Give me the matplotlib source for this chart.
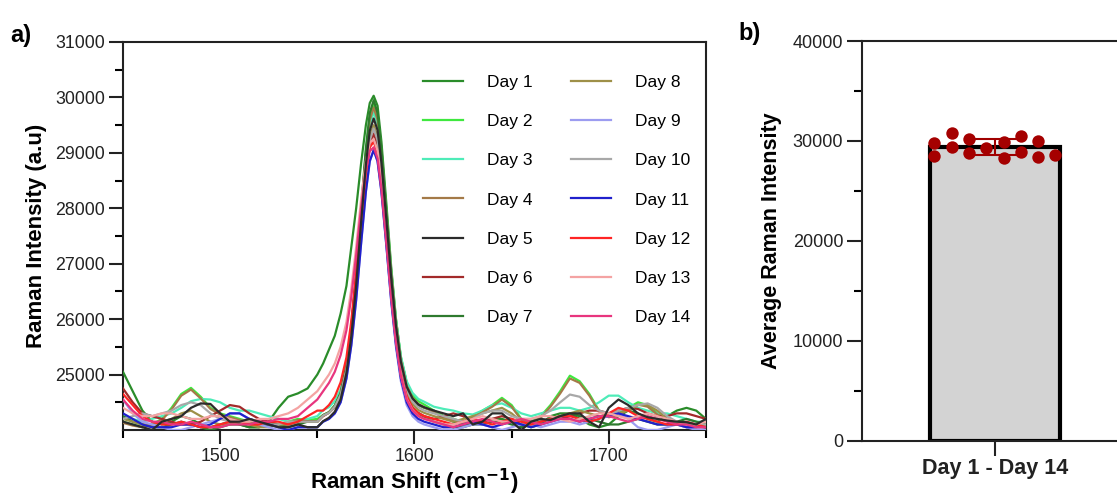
import matplotlib
matplotlib.use("Agg")
import matplotlib.pyplot as plt
import numpy as np

plt.rcParams['font.family'] = ['Liberation Sans', 'DejaVu Sans']

# Raman shift grid (cm-1): left baseline, G-band peak, right baseline
shift = ([1450, 1455, 1460, 1465, 1470, 1475, 1480, 1485, 1490, 1495, 1500,
          1505, 1510, 1515, 1520, 1525, 1530, 1535, 1540, 1545, 1550]
         + [1553, 1556, 1559, 1562, 1565, 1567.5, 1570, 1572.5, 1575, 1577, 1579,
            1581, 1583, 1585.5, 1588, 1590.5, 1593, 1596, 1599, 1602, 1605]
         + [1610, 1615, 1620, 1625, 1630, 1635, 1640, 1645, 1650, 1655, 1660,
            1665, 1670, 1675, 1680, 1685, 1690, 1695, 1700, 1705, 1710, 1715,
            1720, 1725, 1730, 1735, 1740, 1745, 1750])

day1 = [25050, 24700, 24350, 24150, 24100, 24150, 24250, 24200, 24100, 24050, 24100, 24150, 24100, 24050, 24050, 24150, 24400, 24600, 24660, 24750, 25000,
        25200, 25450, 25700, 26100, 26600, 27300, 28000, 28800, 29500, 29900, 30030, 29850, 29200, 28100, 26950, 26000, 25300, 24850, 24580, 24450, 24400,
        24350, 24250, 24150, 24100, 24100, 24150, 24200, 24200, 24150, 24100, 24050, 24100, 24250, 24300, 24300, 24200, 24100, 24050, 24100, 24250, 24350, 24300, 24200, 24150, 24250, 24350, 24400, 24350, 24200]
day2 = [24150, 24100, 24050, 24100, 24200, 24400, 24650, 24760, 24600, 24400, 24300, 24250, 24200, 24150, 24100, 24100, 24100, 24150, 24200, 24180, 24200,
        24270, 24320, 24440, 24670, 25150, 25840, 26790, 27930, 29020, 29650, 29880, 29660, 29050, 28000, 26890, 25980, 25320, 24850, 24630, 24520, 24460,
        24350, 24250, 24200, 24150, 24250, 24350, 24450, 24580, 24450, 24200, 24150, 24250, 24450, 24700, 24980, 24880, 24650, 24350, 24250, 24300, 24400, 24500, 24450, 24300, 24200, 24150, 24100, 24100, 24050]
day3 = [24250, 24200, 24150, 24200, 24250, 24300, 24400, 24520, 24560, 24550, 24500, 24400, 24350, 24350, 24300, 24250, 24200, 24150, 24150, 24200, 24250,
        24360, 24410, 24520, 24740, 25210, 25870, 26770, 27870, 28910, 29510, 29730, 29520, 28930, 27920, 26850, 25970, 25330, 24880, 24670, 24560, 24510,
        24420, 24380, 24350, 24300, 24280, 24350, 24450, 24480, 24400, 24300, 24250, 24300, 24350, 24400, 24400, 24350, 24400, 24500, 24620, 24620, 24500, 24400, 24350, 24300, 24300, 24250, 24200, 24150, 24150]
day4 = [24130, 24080, 24050, 24080, 24180, 24370, 24620, 24730, 24570, 24380, 24280, 24230, 24180, 24130, 24080, 24080, 24080, 24130, 24180, 24160, 24150,
        24260, 24320, 24430, 24660, 25140, 25820, 26760, 27890, 28970, 29590, 29820, 29600, 28990, 27940, 26840, 25930, 25270, 24800, 24580, 24470, 24410,
        24320, 24220, 24170, 24130, 24220, 24320, 24420, 24550, 24420, 24180, 24130, 24220, 24420, 24660, 24930, 24850, 24620, 24330, 24230, 24270, 24370, 24460, 24420, 24280, 24180, 24130, 24080, 24080, 24040]
day5 = [24150, 24100, 24050, 24000, 24150, 24200, 24250, 24400, 24480, 24470, 24300, 24150, 24150, 24200, 24150, 24100, 24050, 24050, 24100, 24050, 24050,
        24160, 24220, 24330, 24550, 25030, 25690, 26610, 27730, 28790, 29400, 29620, 29410, 28820, 27810, 26750, 25870, 25230, 24780, 24570, 24460, 24410,
        24350, 24300, 24250, 24300, 24100, 24150, 24300, 24300, 24150, 24000, 24150, 24200, 24180, 24250, 24300, 24300, 24150, 24050, 24400, 24550, 24450, 24300, 24230, 24200, 24170, 24150, 24140, 24100, 24200]
day6 = [24750, 24500, 24300, 24250, 24200, 24150, 24100, 24100, 24150, 24250, 24350, 24450, 24420, 24300, 24200, 24150, 24100, 24100, 24150, 24150, 24150,
        24250, 24310, 24410, 24620, 25060, 25680, 26540, 27580, 28570, 29140, 29350, 29140, 28570, 27580, 26540, 25680, 25060, 24620, 24410, 24310, 24250,
        24200, 24250, 24300, 24250, 24150, 24150, 24200, 24250, 24200, 24100, 24100, 24150, 24200, 24200, 24250, 24300, 24350, 24350, 24300, 24350, 24400, 24380, 24300, 24250, 24250, 24300, 24300, 24250, 24200]
day7 = [24250, 24150, 24100, 24050, 24050, 24100, 24150, 24100, 24050, 24000, 24050, 24100, 24100, 24050, 24050, 24100, 24100, 24050, 24100, 24150, 24150,
        24270, 24320, 24440, 24670, 25170, 25860, 26820, 27980, 29080, 29720, 29950, 29720, 29070, 27960, 26790, 25830, 25120, 24630, 24390, 24280, 24220,
        24150, 24100, 24050, 24050, 24100, 24100, 24150, 24150, 24100, 24050, 24100, 24150, 24200, 24250, 24300, 24250, 24200, 24150, 24100, 24100, 24150, 24200, 24150, 24100, 24100, 24150, 24200, 24150, 24100]
day8 = [24200, 24150, 24100, 24100, 24150, 24200, 24300, 24350, 24250, 24150, 24100, 24100, 24150, 24100, 24050, 24050, 24100, 24100, 24150, 24150, 24150,
        24260, 24310, 24420, 24630, 25090, 25730, 26610, 27680, 28700, 29290, 29500, 29290, 28700, 27700, 26640, 25760, 25130, 24680, 24470, 24360, 24310,
        24250, 24200, 24150, 24200, 24250, 24300, 24350, 24400, 24300, 24150, 24100, 24150, 24200, 24250, 24300, 24350, 24300, 24250, 24250, 24300, 24350, 24450, 24450, 24350, 24200, 24100, 24050, 24050, 24100]
day9 = [24550, 24300, 24150, 24100, 24050, 24000, 24000, 24050, 24100, 24150, 24200, 24300, 24300, 24200, 24100, 24050, 24000, 24000, 24050, 24050, 24050,
        24150, 24200, 24300, 24500, 24930, 25530, 26350, 27350, 28300, 28850, 29050, 28850, 28290, 27330, 26320, 25490, 24880, 24450, 24250, 24150, 24100,
        24050, 24000, 24000, 24050, 24100, 24100, 24050, 24000, 24050, 24100, 24100, 24050, 24100, 24150, 24150, 24100, 24150, 24200, 24250, 24300, 24200, 24050, 24000, 24000, 24050, 24100, 24050, 24000, 24000]
day10 = [24200, 24250, 24300, 24250, 24300, 24350, 24450, 24500, 24450, 24300, 24200, 24150, 24150, 24200, 24150, 24100, 24100, 24150, 24150, 24150, 24150,
         24260, 24310, 24420, 24630, 25080, 25710, 26580, 27640, 28650, 29230, 29440, 29230, 28660, 27680, 26640, 25780, 25160, 24720, 24510, 24410, 24350,
         24300, 24250, 24200, 24150, 24200, 24300, 24350, 24350, 24250, 24200, 24200, 24250, 24350, 24500, 24640, 24600, 24450, 24350, 24300, 24350, 24400, 24450, 24480, 24400, 24250, 24150, 24100, 24100, 24100]
day11 = [24300, 24200, 24100, 24050, 24050, 24050, 24100, 24100, 24050, 24100, 24200, 24300, 24300, 24200, 24150, 24100, 24050, 24000, 24050, 24050, 24050,
         24150, 24200, 24300, 24500, 24930, 25530, 26350, 27350, 28300, 28850, 29050, 28850, 28300, 27350, 26350, 25530, 24930, 24500, 24300, 24200, 24150,
         24100, 24050, 24050, 24100, 24150, 24100, 24050, 24100, 24150, 24100, 24050, 24100, 24150, 24200, 24200, 24150, 24200, 24250, 24250, 24300, 24250, 24200, 24150, 24100, 24100, 24100, 24050, 24050, 24050]
day12 = [24650, 24450, 24250, 24150, 24100, 24100, 24150, 24100, 24050, 24050, 24100, 24150, 24150, 24100, 24100, 24150, 24150, 24100, 24150, 24250, 24350,
         24350, 24450, 24600, 24860, 25310, 25970, 26830, 27790, 28640, 29100, 29200, 29000, 28440, 27480, 26470, 25640, 25030, 24610, 24400, 24300, 24250,
         24200, 24150, 24100, 24150, 24200, 24150, 24100, 24150, 24200, 24150, 24100, 24150, 24200, 24250, 24250, 24200, 24150, 24200, 24300, 24400, 24350, 24250, 24200, 24150, 24100, 24100, 24150, 24100, 24050]
day13 = [24400, 24300, 24250, 24250, 24300, 24300, 24250, 24200, 24200, 24250, 24250, 24200, 24150, 24150, 24200, 24200, 24250, 24300, 24400, 24550, 24700,
         24850, 25000, 25200, 25500, 25950, 26550, 27300, 28150, 28850, 29180, 29250, 29040, 28480, 27500, 26470, 25620, 25000, 24560, 24360, 24250, 24200,
         24150, 24100, 24100, 24150, 24200, 24250, 24200, 24150, 24150, 24200, 24200, 24250, 24250, 24200, 24150, 24200, 24250, 24300, 24300, 24250, 24200, 24250, 24300, 24250, 24200, 24150, 24100, 24100, 24150]
day14 = [24550, 24350, 24200, 24150, 24150, 24100, 24100, 24150, 24100, 24050, 24050, 24100, 24100, 24100, 24150, 24150, 24200, 24200, 24250, 24400, 24550,
         24700, 24850, 25050, 25350, 25800, 26400, 27150, 28000, 28700, 29030, 29100, 28900, 28350, 27400, 26400, 25580, 24980, 24550, 24350, 24250, 24200,
         24150, 24100, 24050, 24100, 24150, 24200, 24150, 24100, 24150, 24200, 24150, 24100, 24150, 24200, 24200, 24150, 24200, 24250, 24250, 24200, 24150, 24200, 24250, 24200, 24150, 24100, 24100, 24050, 24050]

spectra = [day1, day2, day3, day4, day5, day6, day7, day8, day9, day10, day11, day12, day13, day14]
day_labels = ['Day %d' % i for i in range(1, 15)]
day_colors = ['#2a8c2a', '#3fe83f', '#4eecb8', '#a47a48', '#2b2b2b', '#a32a2a', '#2e7a2e',
              '#9e9048', '#9c9cf0', '#a8a8a8', '#2020cc', '#ff2424', '#f4a3a3', '#e8357e']

# panel b: mean intensity per day (14 measurements)
avg_values = [29833, 28500, 30767, 29367, 30167, 28767, 29333,
              29867, 28267, 30533, 28933, 30033, 28433, 28633]
bar_label = 'Day 1 - Day 14'

fig = plt.figure(figsize=(11.17, 4.97), dpi=100)

# ---- panel a ----
ax = fig.add_axes([0.1101, 0.1348, 0.5219, 0.7807])
for i, (vals, lab, col) in enumerate(zip(spectra, day_labels, day_colors)):
    ax.plot(shift, vals, color=col, lw=1.6, label=lab, zorder=3 if i != 4 else 4)

ax.set_xlim(1450, 1750)
ax.set_ylim(24000, 31000)
ax.set_xticks([1500, 1600, 1700])
ax.set_xticks([1450, 1550, 1650, 1750], minor=True)
ax.set_yticks(range(25000, 31001, 1000))
ax.set_yticks(range(24500, 31000, 1000), minor=True)
ax.tick_params(which='major', direction='out', length=10, width=1.5, labelsize=12.8,
               colors='#222222', pad=3)
ax.tick_params(which='minor', direction='out', length=6, width=1.5)
for s in ax.spines.values():
    s.set_linewidth(1.5)
    s.set_color('#222222')
ax.set_xlabel('Raman Shift (cm$^{\\mathbf{-1}}$)', fontsize=16, fontweight='bold', labelpad=1)
ax.set_ylabel('Raman Intensity (a.u)', fontsize=16, fontweight='bold', labelpad=6)

ax.legend(ncol=2, loc='upper left', bbox_to_anchor=(0.488, 0.955), frameon=False,
          fontsize=12.5, handlelength=2.3, handletextpad=1.4, labelspacing=1.38,
          columnspacing=2.2)

fig.text(0.009, 0.915, 'a)', fontsize=17, fontweight='bold')
fig.text(0.661, 0.92, 'b)', fontsize=17, fontweight='bold')

# ---- panel b ----
bx = fig.add_axes([0.7717, 0.1127, 0.2381, 0.8048])
mean_val = np.mean(avg_values)
sd_val = np.std(avg_values, ddof=1)
bx.bar([0], [mean_val], width=0.98, color='#d3d3d3', edgecolor='black', linewidth=3, zorder=2)
bx.errorbar([0], [mean_val], yerr=[sd_val], color='#a00000', capsize=16, capthick=1.5,
            elinewidth=1.5, zorder=3)
# dot layout: columns across the bar
dot_col = [0, 0, 1, 1, 2, 2, 3, 4, 4, 5, 5, 6, 6, 7]
dot_x = [c * 0.13 - 0.455 for c in dot_col]
bx.scatter(dot_x, avg_values, s=80, color='#a50000', zorder=4, linewidths=0)

bx.set_xlim(-1, 1)
bx.set_ylim(0, 40000)
bx.set_xticks([0])
bx.set_yticks(range(0, 40001, 10000))
bx.set_yticks(range(5000, 40000, 10000), minor=True)
bx.tick_params(which='major', direction='out', length=10.5, width=1.5, labelsize=13,
               colors='#222222', pad=3)
bx.tick_params(which='minor', direction='out', length=6, width=1.5)
bx.tick_params(axis='x', pad=2)
bx.set_xticklabels([bar_label], fontsize=15.5, fontweight='bold')
for s in bx.spines.values():
    s.set_linewidth(1.5)
    s.set_color('#222222')
bx.set_ylabel('Average Raman Intensity', fontsize=15.5, fontweight='bold', labelpad=8)

fig.savefig('out.png', dpi=100)
